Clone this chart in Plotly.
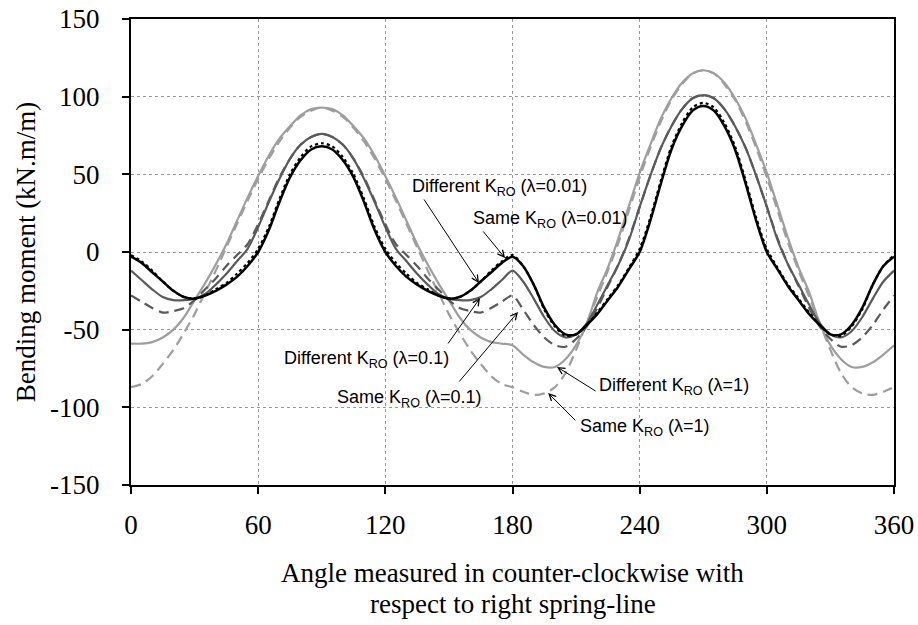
import plotly.graph_objects as go

angles = list(range(0, 361, 5))

# Different K_RO (lambda=0.01) - black solid
m_diff_001 = [-3, -7, -13, -19, -25, -29, -30, -28, -25, -21, -16, -9, 0, 14, 32, 48, 59, 66, 68,
              66, 59, 48, 32, 14, 0, -9, -16, -21, -25, -28, -30, -29, -25, -19, -13, -7, -3,
              -9, -21, -36, -47, -53, -53, -47, -40, -31, -22, -11, 0, 20, 44, 66, 81, 91, 94,
              91, 81, 66, 44, 20, 0, -11, -22, -31, -40, -47, -53, -53, -47, -36, -21, -9, -3]
# Same K_RO (lambda=0.01) - black dotted
m_same_001 = [-2, -6, -12, -19, -25, -29, -30, -28, -24, -20, -14, -7, 2, 16, 34, 50, 61, 68, 70,
              68, 61, 50, 34, 16, 2, -7, -14, -20, -24, -28, -30, -29, -25, -19, -12, -6, -2,
              -9, -21, -37, -48, -54, -53, -47, -39, -30, -21, -10, 2, 22, 46, 68, 83, 93, 96,
              93, 83, 68, 46, 22, 2, -10, -21, -30, -39, -47, -53, -54, -48, -37, -21, -9, -2]
# Different K_RO (lambda=0.1) - dark grey solid
m_diff_01 = [-12, -18, -24, -29, -31, -31, -30, -27, -21, -14, -6, 2, 16, 32, 47, 60, 69, 74, 76,
             74, 69, 60, 47, 32, 16, 2, -6, -14, -21, -27, -30, -31, -31, -29, -24, -18, -12,
             -19, -30, -42, -51, -55, -53, -46, -34, -21, -8, 8, 29, 49, 67, 81, 92, 99, 101,
             99, 92, 81, 67, 49, 29, 8, -8, -21, -34, -46, -53, -55, -51, -42, -30, -19, -12]
# Same K_RO (lambda=0.1) - dark grey dashed
m_same_01 = [-28, -32, -36, -39, -38, -36, -31, -24, -17, -9, -2, 5, 18, 33, 48, 60, 69, 74, 76,
             74, 69, 60, 48, 33, 18, 5, -2, -9, -17, -24, -31, -36, -38, -39, -36, -32, -28,
             -37, -47, -55, -60, -61, -56, -48, -36, -22, -8, 9, 29, 49, 67, 81, 92, 99, 101,
             99, 92, 81, 67, 49, 29, 9, -8, -22, -36, -48, -56, -61, -60, -55, -47, -37, -28]
# Different K_RO (lambda=1) - light grey solid
m_diff_1 = [-59, -59, -58, -55, -50, -42, -31, -20, -8, 5, 20, 35, 49, 62, 73, 81, 88, 92, 93,
            92, 88, 81, 73, 62, 49, 35, 20, 5, -8, -20, -31, -42, -50, -55, -58, -59, -60,
            -66, -71, -74, -74, -69, -60, -46, -26, -10, 9, 30, 51, 69, 86, 99, 109, 115, 117,
            115, 109, 99, 86, 69, 51, 30, 9, -10, -26, -46, -60, -69, -74, -74, -71, -66, -60]
# Same K_RO (lambda=1) - light grey dashed
m_same_1 = [-87, -85, -80, -72, -63, -52, -40, -26, -12, 3, 18, 33, 47, 60, 71, 80, 87, 91, 93,
            91, 87, 80, 71, 60, 47, 33, 18, 3, -12, -26, -40, -52, -63, -72, -80, -85, -87,
            -90, -92, -91, -87, -78, -63, -46, -29, -12, 6, 27, 48, 67, 84, 98, 108, 115, 117,
            115, 108, 98, 84, 67, 48, 27, 6, -12, -29, -46, -63, -78, -87, -91, -92, -90, -87]

x_ticks = [0, 60, 120, 180, 240, 300, 360]
y_ticks = [-150, -100, -50, 0, 50, 100, 150]

x_title_lines = ["Angle measured in counter-clockwise with", "respect to right spring-line"]
y_title = "Bending moment (kN.m/m)"

labels = ["Different K<sub>RO</sub> (λ=0.01)", "Same K<sub>RO</sub> (λ=0.01)",
          "Different K<sub>RO</sub> (λ=0.1)", "Same K<sub>RO</sub> (λ=0.1)",
          "Different K<sub>RO</sub> (λ=1)", "Same K<sub>RO</sub> (λ=1)"]
label_pos = [(131.6, 41.8), (160.4, 21.2), (71.2, -69.5), (96.3, -94.0), (219.9, -86.9), (210.9, -113.3)]
arrow_tail = [(137.8, 34.8), (165.6, 14.2), (149.1, -59.9), (154.3, -84.3), (219.9, -90.1), (210.4, -109.4)]
arrow_head = [(164.2, -20.0), (176.5, -3.9), (164.7, -29.6), (182.6, -38.6), (201.0, -74.0), (196.8, -90.8)]

DARK = "#5a5a5a"
LIGHT = "#9e9e9e"

series = [
    (m_same_1, LIGHT, "10px,6px", 2.2),
    (m_diff_1, LIGHT, "solid", 2.2),
    (m_same_01, DARK, "10px,6px", 2.2),
    (m_diff_01, DARK, "solid", 2.2),
    (m_same_001, "#000000", "dot", 2.2),
    (m_diff_001, "#000000", "solid", 2.5),
]

fig = go.Figure()
for ys, col, dash, w in series:
    fig.add_trace(go.Scatter(x=angles, y=ys, mode="lines",
                             line=dict(color=col, dash=dash, width=w, shape="spline", smoothing=0.8),
                             showlegend=False, hoverinfo="skip"))

serif = "Liberation Serif, Times New Roman, serif"
ann = []
for t, (lx, ly) in zip(labels, label_pos):
    ann.append(dict(x=lx, y=ly, xref="x", yref="y", text=t, showarrow=False,
                    xanchor="left", yanchor="middle",
                    font=dict(family="Liberation Sans, Arial", size=18, color="#000")))
for (tx, ty), (hx, hy) in zip(arrow_tail, arrow_head):
    ann.append(dict(x=hx, y=hy, ax=tx, ay=ty, xref="x", yref="y", axref="x", ayref="y",
                    text="", showarrow=True, arrowhead=5, arrowsize=1.3, arrowwidth=1,
                    arrowcolor="#000", standoff=0, startstandoff=0))

# x-axis title as two lines (offsets in px below the plot area)
plot_h = 625 - 19 - 140
for i, line in enumerate(x_title_lines):
    ann.append(dict(x=0.5, y=(-88 - 31 * i) / plot_h, xref="paper", yref="paper",
                    text=line, showarrow=False, xanchor="center", yanchor="middle",
                    borderpad=0,
                    font=dict(family=serif, size=27, color="#000")))

fig.update_layout(
    width=918, height=625,
    margin=dict(l=131, r=24, t=19, b=140),
    paper_bgcolor="white", plot_bgcolor="white",
    font=dict(family=serif, size=27, color="#000"),
    annotations=ann,
    xaxis=dict(range=[0, 360], tickvals=x_ticks, ticktext=[str(v) for v in x_ticks],
               showline=True, linecolor="#000", linewidth=2, mirror=True,
               ticks="outside", ticklen=7, tickwidth=2, tickcolor="#000",
               showgrid=True, gridcolor="#999", griddash="dot", gridwidth=1,
               zeroline=False, tickfont=dict(family=serif, size=27),
               ticklabelstandoff=8, automargin=False),
    yaxis=dict(range=[-150, 150], tickvals=y_ticks, ticktext=[str(v) for v in y_ticks],
               showline=True, linecolor="#000", linewidth=2, mirror=True,
               ticks="outside", ticklen=7, tickwidth=2, tickcolor="#000",
               showgrid=True, gridcolor="#999", griddash="dot", gridwidth=1,
               zeroline=False, tickfont=dict(family=serif, size=27),
               ticklabelstandoff=17, automargin=False,
               title=dict(text=y_title, font=dict(family=serif, size=27), standoff=7)),
)

fig.write_html("out.html", config={"displayModeBar": False, "staticPlot": True},
               post_script="document.body.style.margin='0';")
